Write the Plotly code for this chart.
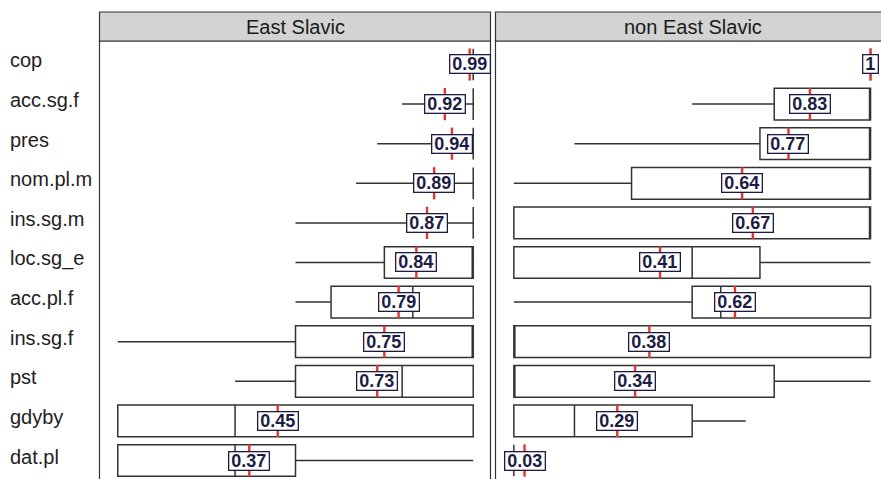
import plotly.graph_objects as go

W, H = 881, 479

rows = ["cop", "acc.sg.f", "pres", "nom.pl.m", "ins.sg.m", "loc.sg_e",
        "acc.pl.f", "ins.sg.f", "pst", "gdyby", "dat.pl"]
groups = ["East Slavic", "non East Slavic"]

# East Slavic: box statistics and means
es_low  = [1.00, 0.80, 0.73, 0.67, 0.50, 0.50, 0.50, 0.00, 0.33, 0.00, 0.00]
es_q1   = [1.00, 1.00, 1.00, 1.00, 1.00, 0.75, 0.60, 0.50, 0.50, 0.00, 0.00]
es_med  = [1.00, 1.00, 1.00, 1.00, 1.00, 1.00, 0.83, 1.00, 0.80, 0.33, 0.33]
es_q3   = [1.00, 1.00, 1.00, 1.00, 1.00, 1.00, 1.00, 1.00, 1.00, 1.00, 0.50]
es_high = [1.00, 1.00, 1.00, 1.00, 1.00, 1.00, 1.00, 1.00, 1.00, 1.00, 1.00]
es_mean = [0.99, 0.92, 0.94, 0.89, 0.87, 0.84, 0.79, 0.75, 0.73, 0.45, 0.37]

# non East Slavic: box statistics and means
ne_low  = [1.00, 0.50, 0.17, 0.00, 0.00, 0.00, 0.00, 0.00, 0.00, 0.00, 0.00]
ne_q1   = [1.00, 0.73, 0.69, 0.33, 0.00, 0.00, 0.50, 0.00, 0.00, 0.00, 0.00]
ne_med  = [1.00, 1.00, 1.00, 1.00, 1.00, 0.50, 0.58, 0.00, 0.00, 0.17, 0.00]
ne_q3   = [1.00, 1.00, 1.00, 1.00, 1.00, 0.69, 1.00, 1.00, 0.73, 0.50, 0.00]
ne_high = [1.00, 1.00, 1.00, 1.00, 1.00, 1.00, 1.00, 1.00, 1.00, 0.65, 0.00]
ne_mean = [1.00, 0.83, 0.77, 0.64, 0.67, 0.41, 0.62, 0.38, 0.34, 0.29, 0.03]

pos = list(range(len(rows)))

BOX_LINE = "#333333"
MEAN_RED = "#e8322c"
LABEL_INK = "#1c1c44"
FONT = "Liberation Sans, Arial, sans-serif"


def px_x(p):
    return p / W


def px_y(p):
    return 1 - p / H


def label_width(txt):
    digits = sum(c.isdigit() for c in txt)
    dots = txt.count(".")
    return 10 * digits + 5 * dots + 4


fig = go.Figure()

panels = [
    ("x", "y", es_low, es_q1, es_med, es_q3, es_high, es_mean),
    ("x2", "y2", ne_low, ne_q1, ne_med, ne_q3, ne_high, ne_mean),
]

for xa, ya, lo, q1, med, q3, hi, mean in panels:
    fig.add_trace(go.Box(
        y=pos, q1=q1, median=med, q3=q3, lowerfence=lo, upperfence=hi,
        orientation="h", width=0.8, whiskerwidth=0, boxpoints=False,
        fillcolor="white", line=dict(color=BOX_LINE, width=1.5),
        xaxis=xa, yaxis=ya, showlegend=False, hoverinfo="skip",
    ))
    # mean tick: line symbols are drawn 1.4x the marker size
    fig.add_trace(go.Scatter(
        x=mean, y=pos, mode="markers",
        marker=dict(symbol="line-ns", size=23,
                    line=dict(color=MEAN_RED, width=2.4)),
        xaxis=xa, yaxis=ya, showlegend=False, hoverinfo="skip",
    ))
    for m, p in zip(mean, pos):
        txt = f"{m:.2f}".rstrip("0").rstrip(".")
        fig.add_annotation(
            x=m, y=p, xref=xa, yref=ya, text=txt, showarrow=False,
            font=dict(family=FONT, size=18, color=LABEL_INK, weight="bold"),
            bgcolor="white", bordercolor=LABEL_INK, borderwidth=1.3,
            borderpad=0, width=label_width(txt), height=17,
        )

# panel geometry in pixels
left_panel = (100, 491)
right_panel = (496, 889)
strip_top, strip_bot = 12, 41
y_top_idx, y_bot_idx = -0.593, 10.467

fig.update_layout(
    width=W, height=H,
    margin=dict(l=0, r=0, t=0, b=0),
    paper_bgcolor="white", plot_bgcolor="white",
    xaxis=dict(domain=[px_x(left_panel[0]), px_x(left_panel[1])],
               range=[-0.05, 1.05], visible=False, fixedrange=True),
    xaxis2=dict(domain=[px_x(right_panel[0]), 1.0],
                range=[-0.05, -0.05 + (W - right_panel[0]) / 356.7],
                visible=False, fixedrange=True),
    yaxis=dict(domain=[0, px_y(strip_bot)], range=[y_bot_idx, y_top_idx],
               visible=False, fixedrange=True),
    yaxis2=dict(domain=[0, px_y(strip_bot)], range=[y_bot_idx, y_top_idx],
                visible=False, fixedrange=True, anchor="x2"),
)

# panel frames and strips
for (x0, x1), name in zip([left_panel, right_panel], groups):
    fig.add_shape(type="rect", xref="paper", yref="paper",
                  x0=px_x(x0 - 0.5), x1=px_x(x1 - 0.5),
                  y0=px_y(H + 10), y1=px_y(strip_bot),
                  line=dict(color=BOX_LINE, width=1.2), layer="below")
    fig.add_shape(type="rect", xref="paper", yref="paper",
                  x0=px_x(x0 - 0.5), x1=px_x(x1 - 0.5),
                  y0=px_y(strip_bot), y1=px_y(strip_top),
                  fillcolor="#d3d3d3", line=dict(color=BOX_LINE, width=1.2),
                  layer="below")
    fig.add_annotation(x=px_x((x0 + x1) / 2), y=px_y((strip_top + strip_bot) / 2),
                       xref="paper", yref="paper", text=name, showarrow=False,
                       xanchor="center", yanchor="middle",
                       font=dict(family=FONT, size=20, color="#1a1a1a"))

# row labels, left aligned
for name, p in zip(rows, pos):
    fig.add_annotation(x=px_x(8), y=p, xref="paper", yref="y", text=name,
                       showarrow=False, xanchor="left", yanchor="middle",
                       yshift=4,
                       font=dict(family=FONT, size=20, color="#1e1e1e"))

fig.write_html("out.html")
